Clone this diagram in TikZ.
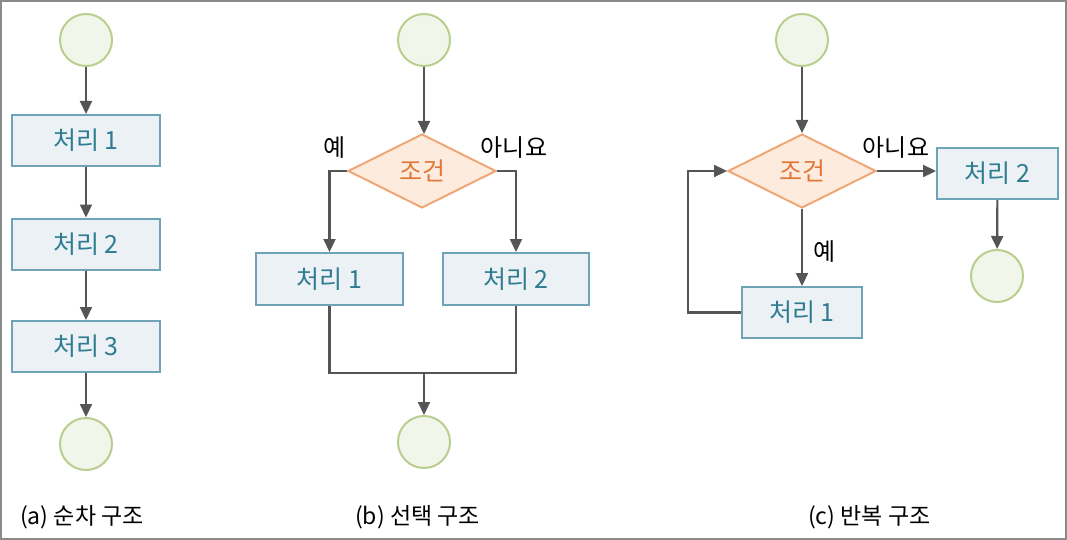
\documentclass[tikz,border=0pt]{standalone}
\usepackage{fontspec}
\setmainfont{Noto Sans CJK KR}
\usetikzlibrary{arrows.meta,shapes.geometric}
\definecolor{boxfill}{HTML}{EBF1F5}
\definecolor{boxdraw}{HTML}{6FA3B8}
\definecolor{boxtext}{HTML}{2F7C90}
\definecolor{diafill}{HTML}{FDEBDD}
\definecolor{diadraw}{HTML}{EFA777}
\definecolor{diatext}{HTML}{E0783A}
\definecolor{cirfill}{HTML}{F2F6EA}
\definecolor{cirdraw}{HTML}{B8CE8E}
\definecolor{linec}{HTML}{555555}
\definecolor{framec}{HTML}{8A8A8A}
\tikzset{
  procbox/.style={draw=boxdraw, fill=boxfill, line width=2pt, text=boxtext, font=\fontsize{25}{25}\selectfont, inner sep=0pt},
  condbox/.style={diamond, aspect=2, draw=diadraw, fill=diafill, line width=2pt, text=diatext, font=\fontsize{25}{25}\selectfont, inner sep=0pt, minimum width=148pt, minimum height=74pt},
  termc/.style={circle, draw=cirdraw, fill=cirfill, line width=2pt, minimum size=52pt, inner sep=0pt},
  flow/.style={draw=linec, line width=2.2pt, -{Triangle[length=13pt,width=12pt]}},
  plain/.style={draw=linec, line width=2.2pt},
  lbl/.style={text=black, font=\fontsize{24}{24}\selectfont, inner sep=0pt},
  captxt/.style={text=black, font=\fontsize{23}{23}\selectfont, inner sep=0pt, anchor=west}
}
\begin{document}
\begin{tikzpicture}[x=1pt,y=-1pt]
\useasboundingbox (0,0) rectangle (1067,540);
\draw[framec, line width=2pt] (1,1) rectangle (1066,539);
% (a)
\node[termc] (a0) at (86,40) {};
\node[procbox, minimum width=148pt, minimum height=51pt] (a1) at (86,140.5) {처리 1};
\node[procbox, minimum width=148pt, minimum height=51pt] (a2) at (86,244) {처리 2};
\node[procbox, minimum width=148pt, minimum height=51pt] (a3) at (86,346.5) {처리 3};
\node[termc] (a4) at (86,444) {};
\draw[flow] (a0) -- (a1);
\draw[flow] (a1) -- (a2);
\draw[flow] (a2) -- (a3);
\draw[flow] (a3) -- (a4);
\node[captxt] (ca) at (20,517) {(a) 순차 구조};
% (b)
\node[termc] (b0) at (424,40) {};
\node[condbox] (b1) at (422,171) {조건};
\node[procbox, minimum width=147pt, minimum height=52pt] (b2) at (329.5,279) {처리 1};
\node[procbox, minimum width=146pt, minimum height=52pt] (b3) at (516,279) {처리 2};
\node[termc] (b4) at (424,442) {};
\coordinate (bj) at (424,373);
\draw[flow] (b0) -- (424,134);
\draw[flow] (b1.west) -| (b2.north);
\draw[flow] (b1.east) -| (b3.north);
\draw[plain] (b2.south) |- (bj);
\draw[plain] (b3.south) |- (bj);
\draw[flow] (bj) -- (b4);
\node[lbl] (by) at (335,148) {예};
\node[lbl] (bn) at (514,148) {아니요};
\node[captxt] (cb) at (355,517) {(b) 선택 구조};
% (c)
\node[termc] (c0) at (802,40) {};
\node[condbox] (c1) at (802,171) {조건};
\node[procbox, minimum width=121pt, minimum height=51pt] (c2) at (997.5,173.5) {처리 2};
\node[termc] (c3) at (997,276) {};
\node[procbox, minimum width=120pt, minimum height=51pt] (c4) at (802,312.5) {처리 1};
\coordinate (cl) at (688,171);
\draw[flow] (c0) -- (c1.north);
\draw[flow] (c1.east) -- (c2.west |- c1.east);
\draw[flow] (c2) -- (c3);
\draw[flow] (c1.south) -- (c4.north);
\draw[flow] (c4.west) -| (cl) -- (c1.west);
\node[lbl] (cy) at (825,252) {예};
\node[lbl] (cn) at (896,148) {아니요};
\node[captxt] (cc) at (808,517) {(c) 반복 구조};
\end{tikzpicture}
\end{document}
